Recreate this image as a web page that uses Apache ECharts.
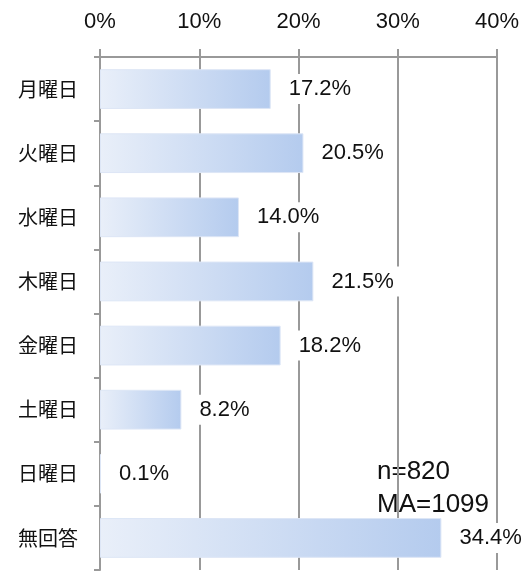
<!DOCTYPE html>
<html><head><meta charset="utf-8">
<script src="https://cdn.jsdelivr.net/npm/echarts@6/dist/echarts.min.js"></script>
<style>html,body{margin:0;padding:0;background:#fff}#c{width:529px;height:577px}</style>
</head><body><div id="c"></div>
<script>
const categories = ['月曜日','火曜日','水曜日','木曜日','金曜日','土曜日','日曜日','無回答'];
const values = [17.2, 20.5, 14.0, 21.5, 18.2, 8.2, 0.1, 34.4];
const tickValues = [0, 10, 20, 30, 40];
const noteText = 'n=820\nMA=1099';

const chart = echarts.init(document.getElementById('c'));
chart.setOption({
  animation: false,
  grid: {left: 100, right: 32, top: 57, bottom: 7},
  xAxis: {
    type: 'value', position: 'top', min: tickValues[0], max: tickValues[tickValues.length-1], interval: 10,
    axisLine: {show: true, lineStyle: {color: '#999', width: 2}},
    axisTick: {show: true, length: 8, lineStyle: {color: '#999', width: 2}},
    splitLine: {show: true, lineStyle: {color: '#999', width: 2}},
    axisLabel: {formatter: '{value}%', margin: 24, fontSize: 22, color: '#111', fontFamily: 'Liberation Sans, Arial, sans-serif'}
  },
  yAxis: {
    type: 'category', data: categories, inverse: true,
    axisLine: {show: true, lineStyle: {color: '#999', width: 2}},
    axisTick: {show: true, length: 6, lineStyle: {color: '#999', width: 2}},
    axisLabel: {margin: 22, fontSize: 20, color: '#111', fontFamily: 'Noto Sans CJK JP'}
  },
  series: [{
    type: 'bar', data: values, barCategoryGap: '38%',
    itemStyle: {
      color: new echarts.graphic.LinearGradient(0, 0, 1, 0, [
        {offset: 0, color: '#e9eff9'}, {offset: 1, color: '#b4cbee'}
      ]),
      borderColor: '#dde6f6', borderWidth: 1
    },
    label: {
      show: true, position: 'right', distance: 12,
      formatter: p => p.value.toFixed(1) + '%',
      fontSize: 22, color: '#111', fontFamily: 'Liberation Sans, Arial, sans-serif',
      backgroundColor: '#fff', padding: [4, 6]
    }
  }],
  graphic: [{
    type: 'text', left: 377, top: 455,
    style: {text: noteText, fontSize: 26, lineHeight: 33, fill: '#111', fontFamily: 'Liberation Sans, Arial, sans-serif'}
  }]
});
</script></body></html>
